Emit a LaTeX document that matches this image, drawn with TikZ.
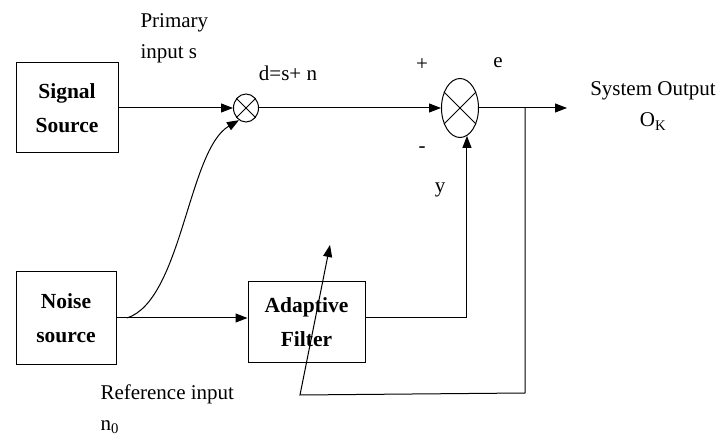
\documentclass[tikz,border=0pt]{standalone}
\usepackage{fontspec}
\setmainfont{Liberation Serif}
\usepackage{tikz}
\usetikzlibrary{arrows.meta,shapes.geometric}

\begin{document}
\begin{tikzpicture}[x=1pt, y=1pt, line width=1pt,
    >={Triangle[length=12pt, width=9pt]},
    box/.style={draw, align=center, font=\fontsize{21.5}{34}\selectfont\bfseries, inner sep=0pt},
    summer/.style={draw, ellipse, inner sep=0pt},
    lbl/.style={font=\fontsize{21}{31}\selectfont, inner sep=0pt}]
    \useasboundingbox (0,0) rectangle (722,436);

    % The blocks
    \node[box, minimum width=102pt, minimum height=90pt] (sig) at (67,328) {Signal\\Source};
    \node[box, minimum width=100pt, minimum height=93pt] (noise) at (66,118) {Noise\\source};
    \node[box, minimum width=117pt, minimum height=81pt] (filter) at (306.5,113.5) {Adaptive\\Filter};

    % The two summing points
    \node[summer, minimum width=25pt, minimum height=28pt] (sc) at (246,328) {};
    \draw (sc.45) -- (sc.-135);
    \draw (sc.135) -- (sc.-45);
    \node[summer, minimum width=37pt, minimum height=59pt] (sum) at (460,328) {};
    \draw (sum.45) -- (sum.-135);
    \draw (sum.135) -- (sum.-45);

    % Points on the lines
    \coordinate (nsplit) at (127,118);
    \coordinate (tap) at (525,328);
    \coordinate (out) at (567,328);
    \coordinate (fbr) at (525,43);
    \coordinate (fbl) at (300,41);
    \coordinate (fbtip) at (330,191);

    % Primary path
    \draw[->] (sig) -- (sc);
    \draw[->] (sc) -- (sum);
    \draw (sum) -- (tap);
    \draw[->] (tap) -- (out);

    % Reference path
    \draw[->] (noise.east) -- (filter.west |- noise.east);
    \draw[->] (nsplit) .. controls (182,136) and (188,286) .. (sc.-120);
    \draw[->] (filter.east |- noise.east) -| (sum.-76);

    % Error fed back to the filter
    \draw[->] (tap) -- (fbr) -- (fbl) -- (fbtip);

    % Labels
    \node[lbl, anchor=west, align=left] (prim) at (140,398) {Primary\\input s};
    \node[lbl] (dlbl) at (288,363) {d=s+ n};
    \node[lbl] (plus) at (422,371) {+};
    \node[lbl] (minus) at (422,286) {-};
    \node[lbl] (elbl) at (498,373) {e};
    \node[lbl] (ylbl) at (440,246) {y};
    \node[lbl, align=center] (outlbl) at (653,330) {System Output\\O\textsubscript{K}};
    \node[lbl, anchor=west, align=left] (reflbl) at (100,27) {Reference input\\n\textsubscript{0}};
\end{tikzpicture}
\end{document}
